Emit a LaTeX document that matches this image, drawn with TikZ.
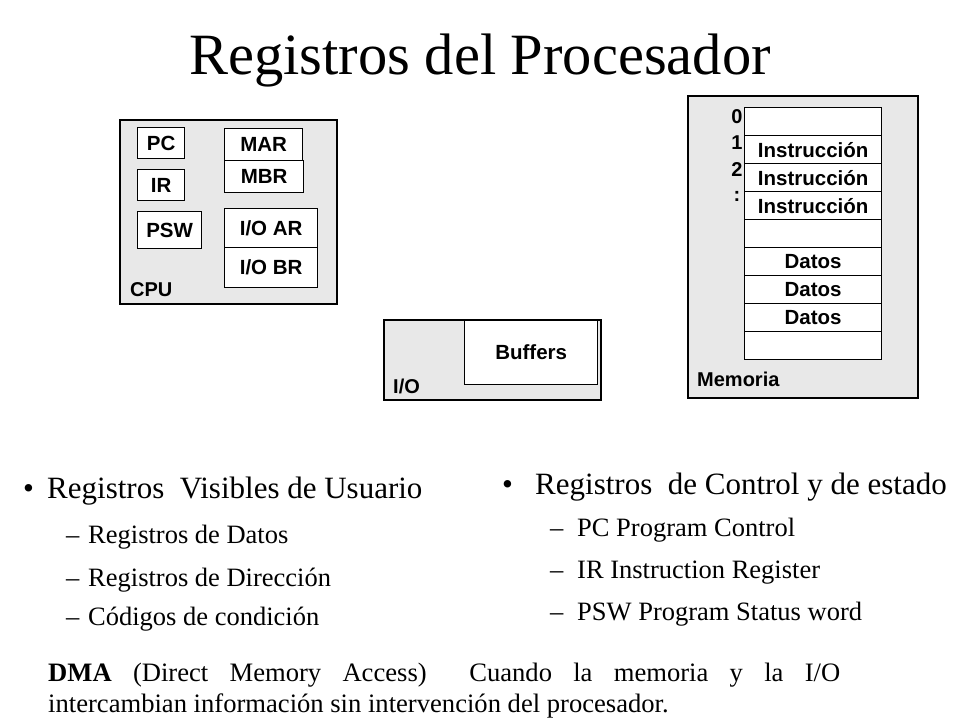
\documentclass[tikz,border=0pt]{standalone}
\usepackage{fontspec}
\setmainfont{Liberation Serif}
\newfontfamily\arialfont{Liberation Sans}
\definecolor{panelgray}{RGB}{232,232,232}
\begin{document}
\begin{tikzpicture}[x=1pt,y=-1pt,
  panel/.style={draw=black, line width=1.3pt, fill=panelgray},
  reg/.style={draw=black, line width=1.3pt, fill=white, inner sep=0pt,
    font=\arialfont\bfseries\fontsize{20.5}{21}\selectfont},
  lbl/.style={inner sep=0pt, font=\arialfont\bfseries\fontsize{20}{21}\selectfont},
  cell/.style={reg, anchor=north west, minimum width=137pt, minimum height=28pt},
  headtxt/.style={inner sep=0pt, anchor=base west, font=\fontsize{31}{33}\selectfont},
  subtxt/.style={inner sep=0pt, anchor=base west, font=\fontsize{26.5}{28}\selectfont},
  bodytxt/.style={inner sep=0pt, anchor=base west, font=\fontsize{26.6}{28}\selectfont}]
\useasboundingbox (0,0) rectangle (960,720);

% title
\node[inner sep=0pt, anchor=base west, font=\fontsize{58.5}{60}\selectfont]
  (title) at (189,74) {Registros del Procesador};

% CPU panel
\draw[panel] (120,120) rectangle (337,304);
\node[lbl, anchor=west] (cpu) at (130,290) {CPU};
\node[reg, anchor=north west, minimum width=47pt, minimum height=31pt] (pc) at (137,127) {PC};
\node[reg, anchor=north west, minimum width=47pt, minimum height=31pt] (ir) at (137,169) {IR};
\node[reg, anchor=north west, minimum width=64pt, minimum height=37pt] (psw) at (137,211) {PSW};
\node[reg, anchor=north west, minimum width=78pt, minimum height=32pt] (mar) at (224,128) {MAR};
\node[reg, anchor=north west, minimum width=79pt, minimum height=32pt] (mbr) at (224,160) {MBR};
\node[reg, anchor=north west, minimum width=93pt, minimum height=39pt] (ioar) at (224,208) {I/O AR};
\node[reg, anchor=north west, minimum width=93pt, minimum height=40pt] (iobr) at (224,247) {I/O BR};

% I/O panel
\draw[panel] (384,320) rectangle (601,400);
\node[reg, anchor=north west, minimum width=133pt, minimum height=64pt] (buf) at (464,320) {Buffers};
\node[lbl, anchor=west] (io) at (393,386) {I/O};

% memory panel
\draw[panel] (688,96) rectangle (918,398);
\node[cell] (m0) at (744,107) {};
\node[cell] (m1) at (744,135) {Instrucción};
\node[cell] (m2) at (744,163) {Instrucción};
\node[cell] (m3) at (744,191) {Instrucción};
\node[cell] (m4) at (744,219) {};
\node[cell] (m5) at (744,247) {Datos};
\node[cell] (m6) at (744,275) {Datos};
\node[cell] (m7) at (744,303) {Datos};
\node[cell] (m8) at (744,331) {};
\node[lbl] (a0) at (737,117) {0};
\node[lbl] (a1) at (737,143) {1};
\node[lbl] (a2) at (737,170) {2};
\node[lbl] (a3) at (737,196) {:};
\node[lbl, anchor=west] (mem) at (697,379) {Memoria};

% user-visible registers
\node[headtxt] (b1) at (23,498) {•};
\node[headtxt] (h1) at (47,498) {Registros\ \ Visibles de Usuario};
\node[subtxt] (d1) at (66,543) {–};
\node[subtxt] (s1) at (88,543) {Registros de Datos};
\node[subtxt] (d2) at (66,586) {–};
\node[subtxt] (s2) at (88,586) {Registros de Dirección};
\node[subtxt] (d3) at (66,625) {–};
\node[subtxt] (s3) at (88,625) {Códigos de condición};

% control and status registers
\node[headtxt] (b2) at (502,494) {•};
\node[headtxt] (h2) at (535,494) {Registros\ \ de Control y de estado};
\node[subtxt] (d4) at (550,536) {–};
\node[subtxt] (s4) at (577,536) {PC Program Control};
\node[subtxt] (d5) at (550,578) {–};
\node[subtxt] (s5) at (577,578) {IR Instruction Register};
\node[subtxt] (d6) at (550,620) {–};
\node[subtxt] (s6) at (577,620) {PSW Program Status word};

% DMA note
\node[bodytxt] (dma1) at (48,681)
  {\makebox[792pt][s]{\textbf{DMA} (Direct Memory Access)\ \ Cuando la memoria y la I/O}};
\node[bodytxt] (dma2) at (48,712)
  {intercambian información sin intervención del procesador.};
\end{tikzpicture}
\end{document}
